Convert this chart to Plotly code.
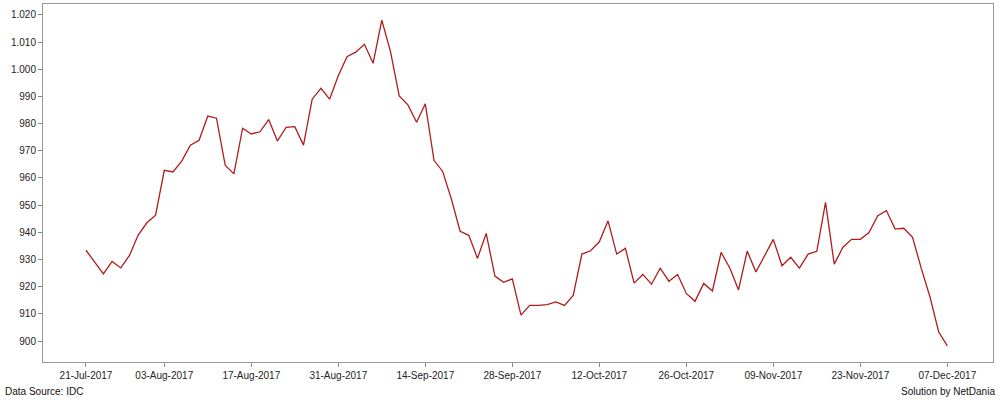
import pandas as pd
import plotly.graph_objects as go

# Trading days (weekdays) from 21-Jul-2017 to 07-Dec-2017
dates = [d.strftime("%Y-%m-%d") for d in pd.bdate_range("2017-07-21", "2017-12-07")]

values = [
    933.4, 929.0, 924.7, 929.3, 926.9, 931.5, 939.0, 943.5, 946.3, 962.8,
    962.2, 966.2, 972.1, 973.9, 982.8, 982.0, 964.7, 961.5, 978.3, 976.2,
    977.0, 981.5, 973.6, 978.6, 978.9, 972.1, 989.0, 993.0, 989.0, 997.6,
    1004.6, 1006.3, 1009.2, 1002.2, 1018.1, 1006.5, 990.2, 986.9, 980.5, 987.3,
    966.5, 962.4, 952.2, 940.4, 938.9, 930.4, 939.6, 923.9, 921.6, 922.9,
    909.5, 913.1, 913.1, 913.4, 914.4, 913.1, 916.8, 932.0, 933.2, 936.5,
    944.2, 932.0, 934.1, 921.3, 924.5, 920.9, 926.8, 922.0, 924.5, 917.5,
    914.6, 921.2, 918.4, 932.6, 926.9, 918.8, 933.1, 925.4, 931.3, 937.4,
    927.7, 930.8, 926.8, 932.0, 933.0, 951.0, 928.3, 934.5, 937.4, 937.4,
    939.9, 946.1, 948.0, 941.2, 941.5, 938.2, 926.8, 916.3, 903.4, 898.2,
]

tick_dates = ["2017-07-21", "2017-08-03", "2017-08-17", "2017-08-31", "2017-09-14",
              "2017-09-28", "2017-10-12", "2017-10-26", "2017-11-09", "2017-11-23",
              "2017-12-07"]
tick_labels = ["21-Jul-2017", "03-Aug-2017", "17-Aug-2017", "31-Aug-2017", "14-Sep-2017",
               "28-Sep-2017", "12-Oct-2017", "26-Oct-2017", "09-Nov-2017", "23-Nov-2017",
               "07-Dec-2017"]
y_ticks = [900, 910, 920, 930, 940, 950, 960, 970, 980, 990, 1000, 1010, 1020]

assert len(dates) == len(values)

fig = go.Figure()
fig.add_trace(go.Scatter(
    x=dates, y=values, mode="lines",
    line=dict(color="#b01c1c", width=1.3),
    hoverinfo="x+y", showlegend=False,
))

axis_font = dict(family="Liberation Sans, Arial, sans-serif", size=10, color="#222222")
foot_font = dict(family="Liberation Sans, Arial, sans-serif", size=10, color="#111111")

fig.update_layout(
    width=1000, height=400,
    margin=dict(l=43, r=7, t=4, b=38, autoexpand=False),
    paper_bgcolor="white", plot_bgcolor="white",
    separators=",.",
    xaxis=dict(
        type="category",
        range=[-4.94, 104.25],
        tickmode="array", tickvals=tick_dates, ticktext=tick_labels,
        ticks="outside", ticklen=4, tickcolor="#888888",
        showgrid=False, zeroline=False,
        showline=True, linecolor="#999999", linewidth=1, mirror=True,
        tickfont=axis_font, automargin=False,
    ),
    yaxis=dict(
        range=[892.27, 1024.03],
        tickmode="array", tickvals=y_ticks,
        tickformat=",d",
        ticks="outside", ticklen=4, tickcolor="#888888",
        showgrid=False, zeroline=False,
        showline=True, linecolor="#999999", linewidth=1, mirror=True,
        tickfont=axis_font, automargin=False,
    ),
    annotations=[
        dict(text="Data Source: IDC", xref="paper", yref="paper",
             x=-40 / 950, y=-29 / 358, xanchor="left", yanchor="middle",
             showarrow=False, font=foot_font),
        dict(text="Solution by NetDania", xref="paper", yref="paper",
             x=1.0039, y=-29 / 358, xanchor="right", yanchor="middle",
             showarrow=False, font=foot_font),
    ],
)

fig.write_html(
    "out.html",
    config={"displayModeBar": False},
    post_script="document.body.style.margin='0';document.body.style.overflow='hidden';",
)
